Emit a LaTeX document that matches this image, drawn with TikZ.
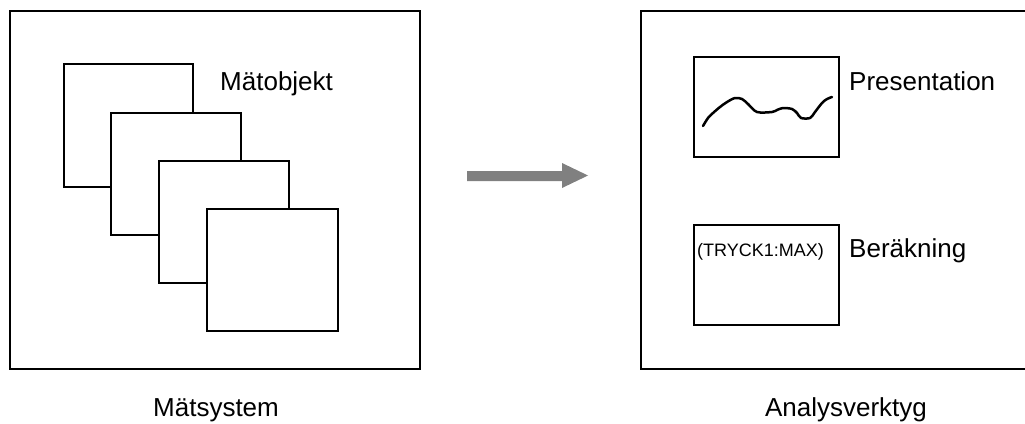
\documentclass[tikz,border=0pt]{standalone}
\usepackage{fontspec}
\setmainfont{Liberation Sans}
\begin{document}
\begin{tikzpicture}[x=1pt,y=-1pt,
  frame/.style={draw=black,line width=2pt,fill=white},
  label/.style={inner sep=0pt,font=\fontsize{26}{30}\selectfont},
  small/.style={inner sep=0pt,font=\fontsize{18}{21}\selectfont}]
\useasboundingbox (0,0) rectangle (1025,423);

% measuring system with its stacked measurement objects
\draw[frame] (10,11) rectangle (420,369);
\draw[frame] (64,64) rectangle (193,187);
\draw[frame] (111,113) rectangle (241,235);
\draw[frame] (159,161) rectangle (289,283);
\draw[frame] (207,209) rectangle (338,331);
\node[label,anchor=base west] (obj) at (220,90) {Mätobjekt};
\node[label,anchor=base] (sys) at (216,416) {Mätsystem};

% transfer arrow
\fill[black!50] (467,171) -- (562,171) -- (562,163) -- (588,175.5)
  -- (562,188) -- (562,181) -- (467,181) -- cycle;

% analysis tool
\draw[frame] (641,11) rectangle (1050,369);
\draw[frame] (694,57) rectangle (839,157);
\draw[line width=2.5pt,line join=round,line cap=round]
  plot[smooth,tension=0.5] coordinates {(703,126) (708,118) (713,113) (720,107) (727,102)
  (735,98) (742,99) (748,104) (757,112) (772,112) (777,110) (783,108) (792,109)
  (797,113) (801,118) (810,118) (815,112) (822,103) (827,99) (832,97)};
\node[label,anchor=base west] (pres) at (849,90) {Presentation};
\draw[frame] (694,225) rectangle (839,325);
\node[small,anchor=base west] (calc) at (697,256) {(TRYCK1:MAX)};
\node[label,anchor=base west] (ber) at (849,257) {Beräkning};
\node[label,anchor=base] (tool) at (846,416) {Analysverktyg};
\end{tikzpicture}
\end{document}
